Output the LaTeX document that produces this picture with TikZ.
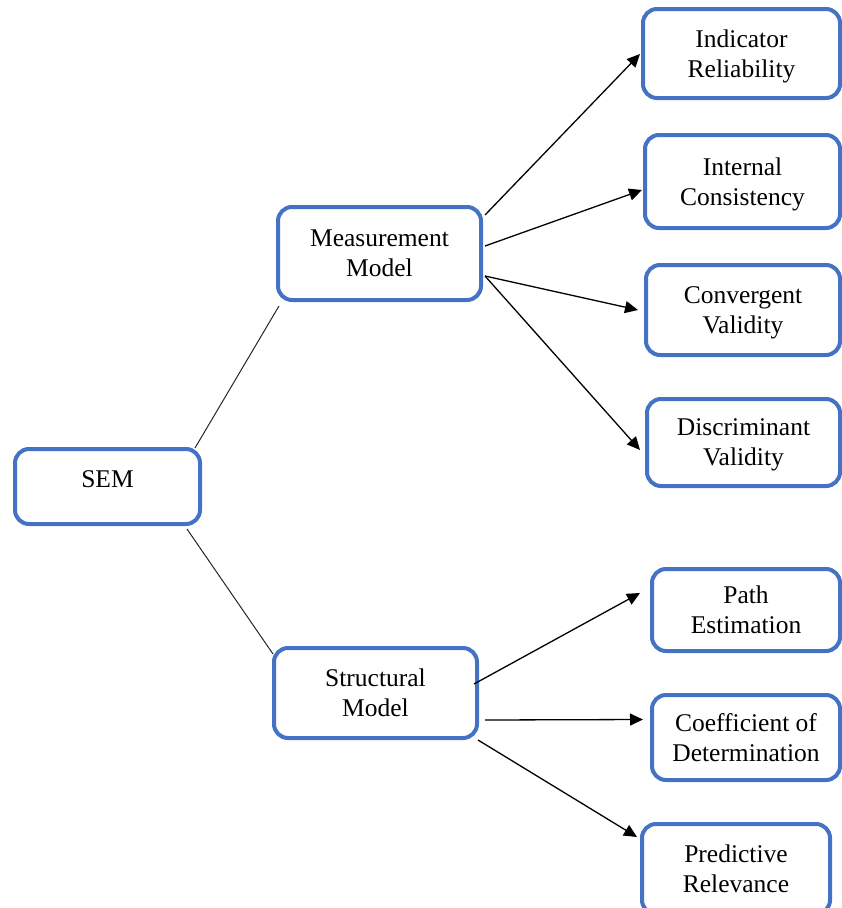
\documentclass[tikz,border=0pt]{standalone}
\usepackage{fontspec}
\setmainfont{Liberation Serif}
\usetikzlibrary{arrows.meta}
\definecolor{boxblue}{HTML}{4472C4}
\begin{document}
\begin{tikzpicture}[x=1pt,y=-1pt,
  box/.style={draw=boxblue, line width=4pt, rounded corners=14pt, fill=white,
    inner sep=0pt, align=center, text depth=0pt, font=\fontsize{25.5}{30}\selectfont},
  link/.style={draw=black!85, line width=1pt},
  arr/.style={draw=black, line width=1.3pt, -{Triangle[length=13pt,width=12pt]}}]
\useasboundingbox (0,0) rectangle (842,908);

% root and the two model types
\node[box, minimum width=185pt, minimum height=75pt, text height=18pt, text depth=16pt] (sem) at (107.5,486.5) {SEM};
\node[box, minimum width=203pt, minimum height=93pt] (meas) at (379.5,253.5) {Measurement\\Model};
\node[box, minimum width=203pt, minimum height=90pt] (struct) at (375.5,693) {Structural\\Model};

% measurement model criteria
\node[box, minimum width=197pt, minimum height=89pt] (ind) at (741.5,53.5) {Indicator\\Reliability};
\node[box, minimum width=195pt, minimum height=93pt] (ic) at (742.5,181.5) {Internal\\Consistency};
\node[box, minimum width=194pt, minimum height=90pt] (cv) at (743,310) {Convergent\\Validity};
\node[box, minimum width=193pt, minimum height=87pt] (dv) at (743.5,442.5) {Discriminant\\Validity};

% structural model criteria
\node[box, minimum width=188pt, minimum height=82pt] (path) at (746,610) {Path\\Estimation};
\node[box, minimum width=188pt, minimum height=85pt] (coef) at (746,737.5) {Coefficient of\\Determination};
\node[box, minimum width=188pt, minimum height=90pt] (pred) at (736,869) {Predictive\\Relevance};

% plain links from the root
\draw[link] ([shift={(-7pt,-1pt)}]sem.north east) -- ([shift={(3pt,-4pt)}]meas.south west);
\draw[link] ([shift={(-15pt,-3pt)}]sem.south east) -- ([shift={(1pt,-8pt)}]struct.north west);

% arrows to the measurement criteria
\draw[arr] ([shift={(2pt,38.5pt)}]meas.east) -- ([shift={(-1pt,-0.5pt)}]ind.west);
\draw[arr] ([shift={(2pt,7.5pt)}]meas.east) -- ([shift={(-1pt,-8.5pt)}]ic.west);
\draw[arr] ([shift={(2pt,-22.5pt)}]meas.east) -- ([shift={(-6pt,0pt)}]cv.west);
\draw[arr] ([shift={(2pt,-22.5pt)}]meas.east) -- ([shift={(-5pt,-7.5pt)}]dv.west);

% arrows to the structural criteria
\draw[arr] ([shift={(-5pt,9pt)}]struct.east) -- ([shift={(-10pt,17pt)}]path.west);
\draw[arr] ([shift={(6pt,-27pt)}]struct.east) -- ([shift={(-7pt,18pt)}]coef.west);
\draw[arr] ([shift={(-1pt,0pt)}]struct.south east) -- ([shift={(-3pt,32pt)}]pred.west);
\end{tikzpicture}
\end{document}
